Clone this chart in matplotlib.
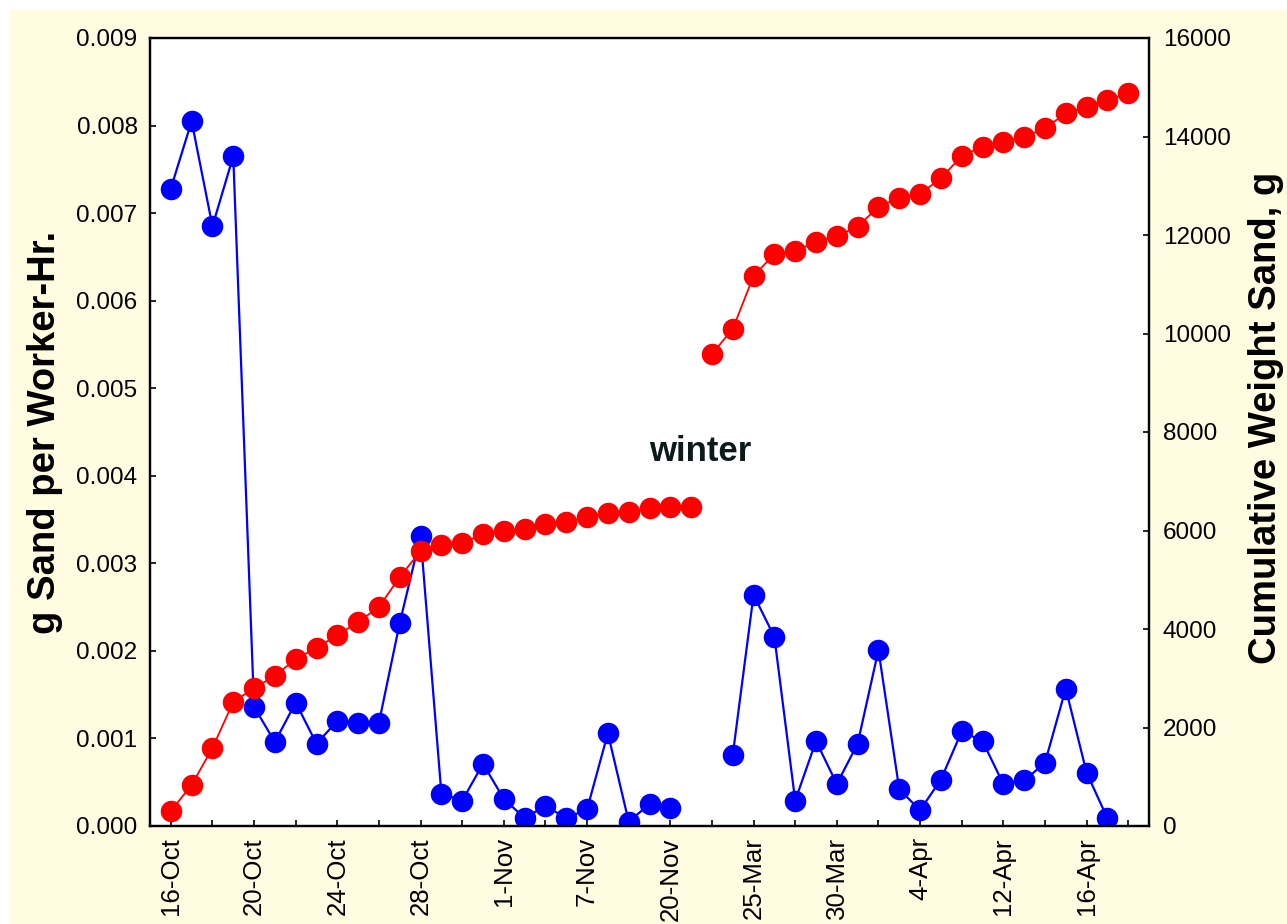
import numpy as np
import matplotlib
matplotlib.use('Agg')
import matplotlib.pyplot as plt
from matplotlib.patches import Rectangle
from matplotlib.ticker import MultipleLocator, FixedLocator, FixedFormatter

plt.rcParams['font.family'] = ['Liberation Sans', 'DejaVu Sans']

# sample dates shown on the x axis (every 4th sample)
tick_labels = ['16-Oct', '20-Oct', '24-Oct', '28-Oct', '1-Nov', '7-Nov', '20-Nov',
               '25-Mar', '30-Mar', '4-Apr', '12-Apr', '16-Apr']

# g sand per worker-hour (blue), autumn then spring
rate_fall = [0.00728, 0.00805, 0.00685, 0.00765, 0.00136, 0.00096, 0.00141, 0.00094,
             0.00120, 0.00118, 0.00118, 0.00232, 0.00331, 0.00037, 0.00029, 0.00071,
             0.00031, 0.00009, 0.00023, 0.00009, 0.00019, 0.00106, 0.00005, 0.00025,
             0.00021]
rate_spring = [0.00081, 0.00264, 0.00216, 0.00029, 0.00097, 0.00048, 0.00094, 0.00201,
               0.00042, 0.00018, 0.00053, 0.00108, 0.00097, 0.00048, 0.00052, 0.00072,
               0.00157, 0.00061, 0.00009]

# cumulative weight of sand, g (red)
cum_fall = [305, 832, 1584, 2518, 2802, 3046, 3391, 3614, 3878, 4142, 4447, 5056, 5584,
            5706, 5746, 5929, 5990, 6031, 6132, 6173, 6274, 6355, 6376, 6457, 6477, 6477]
cum_spring = [9584, 10092, 11168, 11614, 11675, 11864, 11980, 12169, 12575, 12758, 12833,
              13152, 13604, 13793, 13895, 13996, 14167, 14472, 14605, 14741, 14878]

# sample index where the spring series start
rate_spring_start = 27
cum_spring_start = 26

W, H = 1287, 924
fig = plt.figure(figsize=(W / 100, H / 100), dpi=100)
fig.patch.set_facecolor('white')
fig.add_artist(Rectangle((10 / W, 0), 1, 1 - 10 / H, transform=fig.transFigure,
                         facecolor='#fffce1', edgecolor='none', zorder=-10))

ax = fig.add_axes([150 / W, 1 - 826 / H, 999 / W, 788 / H])
ax.set_facecolor('white')
ax2 = ax.twinx()

mk = dict(marker='o', markersize=15.5, markeredgewidth=0)
ax.plot(np.arange(len(rate_fall)), rate_fall, color='#0000ff', lw=1.6, **mk)
ax.plot(rate_spring_start + np.arange(len(rate_spring)), rate_spring, color='#0000ff', lw=1.6, **mk)
ax2.plot(np.arange(len(cum_fall)), cum_fall, color='#ff0000', lw=1.3, **mk)
ax2.plot(cum_spring_start + np.arange(len(cum_spring)), cum_spring, color='#ff0000', lw=1.3, **mk)

ax.set_xlim(-1, 47)
ax.set_ylim(0, 0.009)
ax2.set_ylim(0, 16000)

ax.yaxis.set_major_locator(MultipleLocator(0.001))
ax.yaxis.set_major_formatter(matplotlib.ticker.FormatStrFormatter('%.3f'))
ax2.yaxis.set_major_locator(MultipleLocator(2000))

ax.xaxis.set_major_locator(FixedLocator(np.arange(0, 48, 4)))
ax.xaxis.set_major_formatter(FixedFormatter(tick_labels))
ax.xaxis.set_minor_locator(FixedLocator(np.arange(2, 48, 4)))

ax.tick_params(axis='both', which='both', direction='in', length=4, width=1.2,
               labelsize=17.5, colors='black')
ax.tick_params(axis='y', pad=9)
ax.tick_params(axis='x', pad=8, labelsize=18.6, labelrotation=90)
ax2.tick_params(axis='y', direction='in', length=4, width=1.2, labelsize=17.5, pad=10)

for a in (ax, ax2):
    for s in a.spines.values():
        s.set_linewidth(1.6)
        s.set_color('black')

ax.text(25.45, 0.00428, 'winter', ha='center', va='center', fontsize=25,
        fontweight='bold', color='#0d1a1a')

fig.text(45 / W, 1 - 432 / H, 'g Sand per Worker-Hr.', rotation=90, ha='center',
         va='center', fontsize=27.5, fontweight='bold')
fig.text(1266 / W, 1 - 418 / H, 'Cumulative Weight Sand, g', rotation=90, ha='center',
         va='center', fontsize=27.5, fontweight='bold')

fig.savefig('out.png', dpi=100)
